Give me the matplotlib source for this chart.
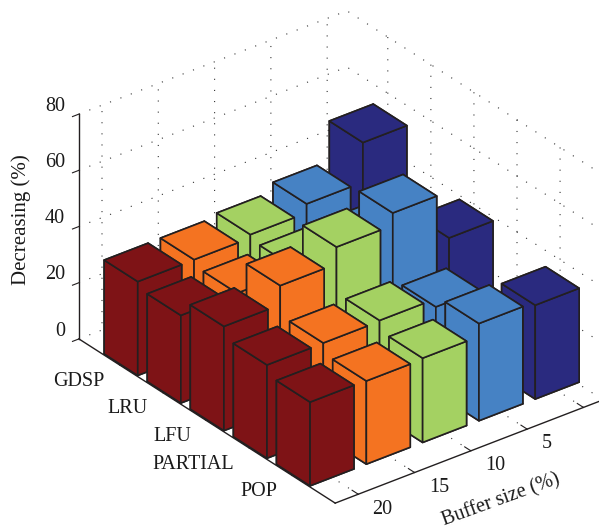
#!/usr/bin/env python3
"""3D bar chart of decrease (%) per caching policy and buffer size."""

import matplotlib
matplotlib.use("Agg")
import matplotlib.pyplot as plt
from mpl_toolkits.mplot3d import proj3d

# Categories run back to front, same order as the value lists below
POLICIES = ["GDSP", "LRU", "LFU", "PARTIAL", "POP"]
BUFFER_LABELS = ["20", "15", "10", "5", ""]
Z_TICKS = [0, 20, 40, 60, 80]

# One list per colour row, front row first. The rows at the back are partly
# hidden, so their low values are rough estimates.
ROW_RED = [33.4, 31.2, 37.1, 33.2, 29.8]
ROW_ORANGE = [33.5, 31.4, 43.9, 33.3, 29.6]
ROW_GREEN = [34.7, 33.0, 49.9, 33.6, 30.0]
ROW_BLUE = [37.9, 33.0, 54.3, 30.7, 34.6]
ROW_NAVY = [52.0, 25.0, 37.7, 12.0, 33.4]

ROWS = [ROW_RED, ROW_ORANGE, ROW_GREEN, ROW_BLUE, ROW_NAVY]
COLORS = ["#7e1316", "#f47321", "#a4d162", "#4682c4", "#2a2a7f"]

EDGE = "#231f20"
TEXT = "#1a1a1a"
BAR_WIDTH = 0.78
X_MIN, X_MAX = -0.41, 4.35
Y_MIN, Y_MAX = -1, 4.95


def label_at(ax, x, y, z, text, **kwargs):
    # 2D text at a projected 3D spot; mplot3d's own tick labels can't be
    # offset freely enough, and Text3D ignores a plain rotation
    px, py, _ = proj3d.proj_transform(x, y, z, ax.get_proj())
    ax.text2D(px, py, text, transform=ax.transData, color=TEXT, **kwargs)


def main():
    plt.rcParams["font.family"] = ["Liberation Serif"]
    plt.rcParams["font.size"] = 14.5
    plt.rcParams["grid.color"] = "#333333"
    plt.rcParams["grid.linewidth"] = 0.8
    plt.rcParams["grid.linestyle"] = (0, (1, 9))

    fig = plt.figure(figsize=(5.99, 5.27), dpi=100)
    # 3D axes are always square; this one runs a little past the bottom edge
    size = 580
    ax = fig.add_axes(
        [43.2 / 599, -27.8 / 527, size / 599, size / 527],
        projection="3d", proj_type="ortho",
    )
    ax.computed_zorder = False
    ax.view_init(elev=29.8, azim=232.2)
    ax.set_box_aspect((339, 418, 259))

    ax.set_xlim(X_MIN, X_MAX, view_margin=0)
    ax.set_ylim(Y_MIN, Y_MAX, view_margin=0)
    ax.set_zlim(0, 80, view_margin=0)

    # Far bars first, the boxes never overlap so plain painter order works
    n_rows = len(ROWS)
    n_cats = len(POLICIES)
    order = 0
    for u in range(n_rows - 1, -1, -1):
        for i in range(n_cats):
            v = n_cats - 1 - i
            ax.bar3d(
                u - BAR_WIDTH / 2, v - BAR_WIDTH / 2, 0,
                BAR_WIDTH, BAR_WIDTH, ROWS[u][i],
                color=COLORS[u], edgecolor=EDGE, linewidth=1.2,
                shade=False, zorder=order,
            )
            order += 1

    ax.set_xticks(range(n_rows))
    ax.set_xticklabels([])
    ax.set_yticks(range(n_cats))
    ax.set_yticklabels([])
    ax.set_zticks(Z_TICKS)
    ax.set_zticklabels([])

    for u, label in enumerate(BUFFER_LABELS):
        label_at(ax, u - 0.1, Y_MIN - 0.46, 0, label, ha="left", va="center")
    for i, label in enumerate(POLICIES):
        label_at(ax, X_MIN - 0.43, n_cats - 1 - i - 0.21, -0.4, label,
                 ha="right", va="center")
    for z in Z_TICKS:
        label_at(ax, X_MIN - 0.25, Y_MAX, z + 4.7, str(z), ha="right",
                 va="center")
    label_at(ax, X_MIN - 1.02, Y_MAX, 50.5, "Decreasing (%)", rotation=90,
             ha="center", va="center", fontsize=15)

    for axis in (ax.xaxis, ax.yaxis, ax.zaxis):
        axis.set_pane_color((1, 1, 1, 0))
        axis.pane.set_edgecolor((1, 1, 1, 0))
        axis.line.set_color(EDGE)
        axis.line.set_linewidth(1.0)
        axis._axinfo["tick"]["inward_factor"] = 0
        axis._axinfo["tick"]["outward_factor"] = 0.3
        axis.set_tick_params(color=EDGE, width=1.0)

    # z ticks sit on the far-left edge, where "inward" points off the box
    ax.zaxis._axinfo["tick"]["inward_factor"] = 0.3
    ax.zaxis._axinfo["tick"]["outward_factor"] = 0
    ax.zaxis.set_ticks_position("upper")

    ax.xaxis.set_rotate_label(False)
    ax.set_xlabel("Buffer size (%)", rotation=20, labelpad=6, color=TEXT)

    fig.savefig("out.png", dpi=100)


if __name__ == "__main__":
    main()
